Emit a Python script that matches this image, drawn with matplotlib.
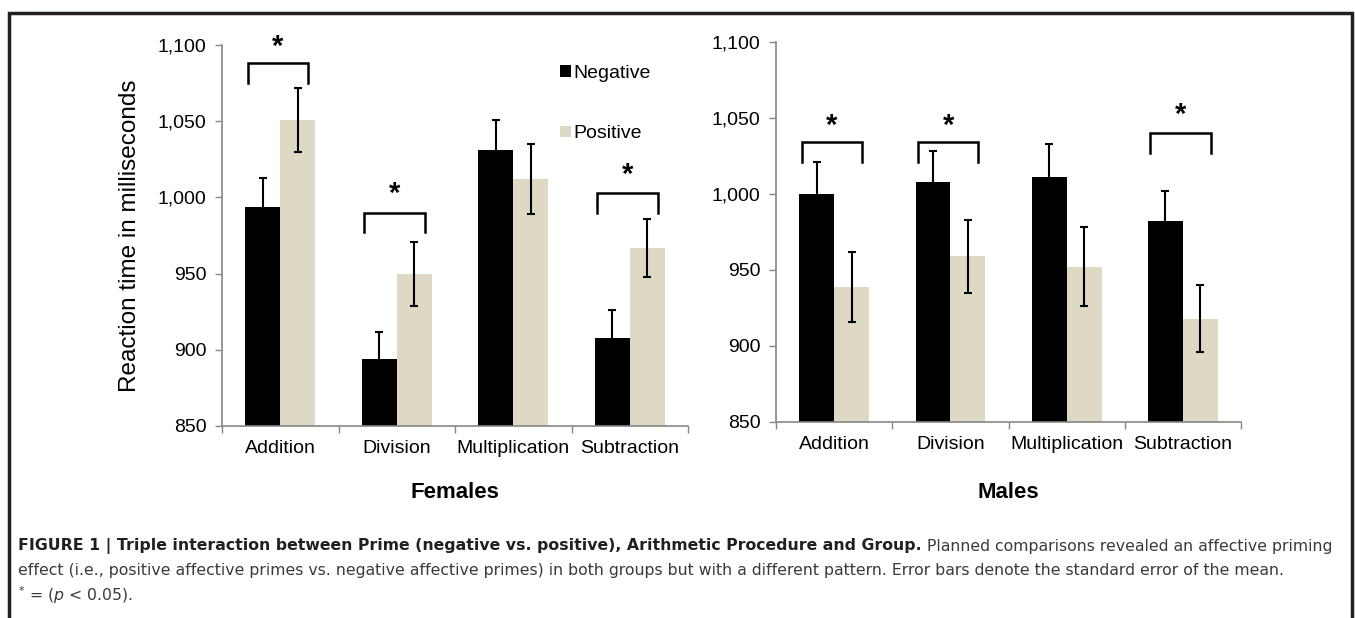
import matplotlib
matplotlib.use("Agg")
import matplotlib.pyplot as plt
from matplotlib.patches import Patch
from matplotlib.ticker import FuncFormatter
import numpy as np

plt.rcParams['font.family'] = ['Liberation Sans', 'DejaVu Sans']
plt.rcParams['mathtext.fontset'] = 'custom'
plt.rcParams['mathtext.rm'] = 'DejaVu Sans'
plt.rcParams['mathtext.it'] = 'DejaVu Sans:italic'

# ---------------- data ----------------
categories = ["Addition", "Division", "Multiplication", "Subtraction"]
series = ["Negative", "Positive"]

female_neg = [994, 894, 1031, 908]
female_pos = [1051, 950, 1012, 967]
female_neg_err = [19, 18, 20, 18]
female_pos_err = [21, 21, 23, 19]

male_neg = [1000, 1008, 1011, 982]
male_pos = [939, 959, 952, 918]
male_neg_err = [21, 20, 22, 20]
male_pos_err = [23, 24, 26, 22]

# significance brackets: (category index, bracket height, asterisk height)
female_sig = [(0, 1088, 1099), (1, 990, 1002), (3, 1003, 1015)]
male_sig = [(0, 1034, 1045), (1, 1034, 1045), (3, 1040, 1052)]

yticks = [850, 900, 950, 1000, 1050, 1100]
group_titles = ["Females", "Males"]
y_label = "Reaction time in milliseconds"

NEG_COLOR = "#000000"
POS_COLOR = "#ddd9c4"
AXIS_COLOR = "#868686"

W, H = 1355, 618
fig = plt.figure(figsize=(W / 100, H / 100), dpi=100)


def px_axes(x0, y_top, x1, y_bot):
    return [x0 / W, 1 - y_bot / H, (x1 - x0) / W, (y_bot - y_top) / H]


axL = fig.add_axes(px_axes(222, 45, 688, 426))
axR = fig.add_axes(px_axes(776, 42, 1241, 422))

bw = 0.3
BR_LO, BR_HI = -0.28, 0.24


def draw_panel(ax, neg, pos, neg_err, pos_err, sig, title, title_pad):
    x = np.arange(len(categories))
    ax.bar(x - bw / 2, neg, bw, color=NEG_COLOR, label=series[0], zorder=2)
    ax.bar(x + bw / 2, pos, bw, color=POS_COLOR, label=series[1], zorder=2)
    ax.errorbar(x - bw / 2, neg, yerr=neg_err, fmt='none', ecolor='black',
                elinewidth=1.5, capsize=3, capthick=1.5, zorder=3)
    ax.errorbar(x + bw / 2, pos, yerr=pos_err, fmt='none', ecolor='black',
                elinewidth=1.5, capsize=3, capthick=1.5, zorder=3)
    ax.set_ylim(850, 1100)
    ax.set_xlim(-0.5, len(categories) - 0.5)
    ax.set_yticks(yticks)
    ax.yaxis.set_major_formatter(FuncFormatter(lambda v, p: f"{v:,.0f}"))
    ax.set_xticks(x)
    ax.set_xticklabels(categories)
    ax.set_xticks(np.arange(len(categories) + 1) - 0.5, minor=True)
    ax.tick_params(axis='x', which='major', length=0, labelsize=14, pad=10)
    ax.tick_params(axis='x', which='minor', length=5, color=AXIS_COLOR, width=1)
    ax.tick_params(axis='y', length=5, color=AXIS_COLOR, width=1, labelsize=14, pad=6)
    for s in ["top", "right"]:
        ax.spines[s].set_visible(False)
    for s in ["left", "bottom"]:
        ax.spines[s].set_color(AXIS_COLOR)
        ax.spines[s].set_linewidth(1.2)
    ax.set_xlabel(title, fontsize=16, fontweight='bold', labelpad=title_pad)
    for ci, yb, ya in sig:
        ax.plot([ci + BR_LO, ci + BR_LO, ci + BR_HI, ci + BR_HI],
                [yb - 13, yb, yb, yb - 13],
                color='black', lw=1.8, solid_joinstyle='miter', zorder=4)
        ax.text(ci + (BR_LO + BR_HI) / 2, ya, "*", ha='center', va='center',
                fontsize=21, fontweight='bold')


draw_panel(axL, female_neg, female_pos, female_neg_err, female_pos_err,
           female_sig, group_titles[0], 18)
draw_panel(axR, male_neg, male_pos, male_neg_err, male_pos_err,
           male_sig, group_titles[1], 21)
axL.set_ylabel(y_label, fontsize=17.5, labelpad=12)

handles = [Patch(facecolor=NEG_COLOR), Patch(facecolor=POS_COLOR)]
axL.legend(handles, series, loc='upper left', bbox_to_anchor=(0.725, 0.947),
           frameon=False, fontsize=14, handlelength=0.56, handleheight=0.56,
           handletextpad=0.15, labelspacing=2.22, borderpad=0, borderaxespad=0)

# outer frame (open at bottom)
fig.add_artist(plt.Line2D([9 / W, 9 / W, 1352 / W, 1352 / W],
                          [0, 1 - 13 / H, 1 - 13 / H, 0],
                          transform=fig.transFigure, color="#231f20", lw=2.5,
                          solid_joinstyle='miter'))

# caption
cap_bold = "FIGURE 1 | Triple interaction between Prime (negative vs. positive), Arithmetic Procedure and Group."
cap_rest1 = " Planned comparisons revealed an affective priming"
cap_line2 = ("effect (i.e., positive affective primes vs. negative affective primes) in both groups "
             "but with a different pattern. Error bars denote the standard error of the mean.")
cap_line3 = r"$^{*}$ = ($\mathit{p}$ < 0.05)."
CAP_FONT = ['DejaVu Sans']
x0 = 18 / W
target_px = 1332 - 18

renderer = fig.canvas.get_renderer()
fs = 10.5
for _ in range(4):
    t1 = fig.text(0, 0, cap_bold, fontsize=fs, fontweight='bold', family=CAP_FONT)
    t2 = fig.text(0, 0, cap_rest1, fontsize=fs, family=CAP_FONT)
    wsum = t1.get_window_extent(renderer).width + t2.get_window_extent(renderer).width
    t1.remove(); t2.remove()
    fs = fs * target_px / wsum

tb = fig.text(x0, 1 - 546 / H, cap_bold, fontsize=fs, fontweight='bold',
              color="#231f20", va='center', family=CAP_FONT)
bb = tb.get_window_extent(renderer)
fig.text(bb.x1 / W, 1 - 546 / H, cap_rest1, fontsize=fs, color="#3a3a3a",
         va='center', family=CAP_FONT)
fig.text(x0, 1 - 571 / H, cap_line2, fontsize=fs, color="#3a3a3a", va='center',
         family=CAP_FONT)
fig.text(x0, 1 - 595 / H, cap_line3, fontsize=fs, color="#3a3a3a", va='center',
         family=CAP_FONT)

fig.savefig("out.png", dpi=100)
